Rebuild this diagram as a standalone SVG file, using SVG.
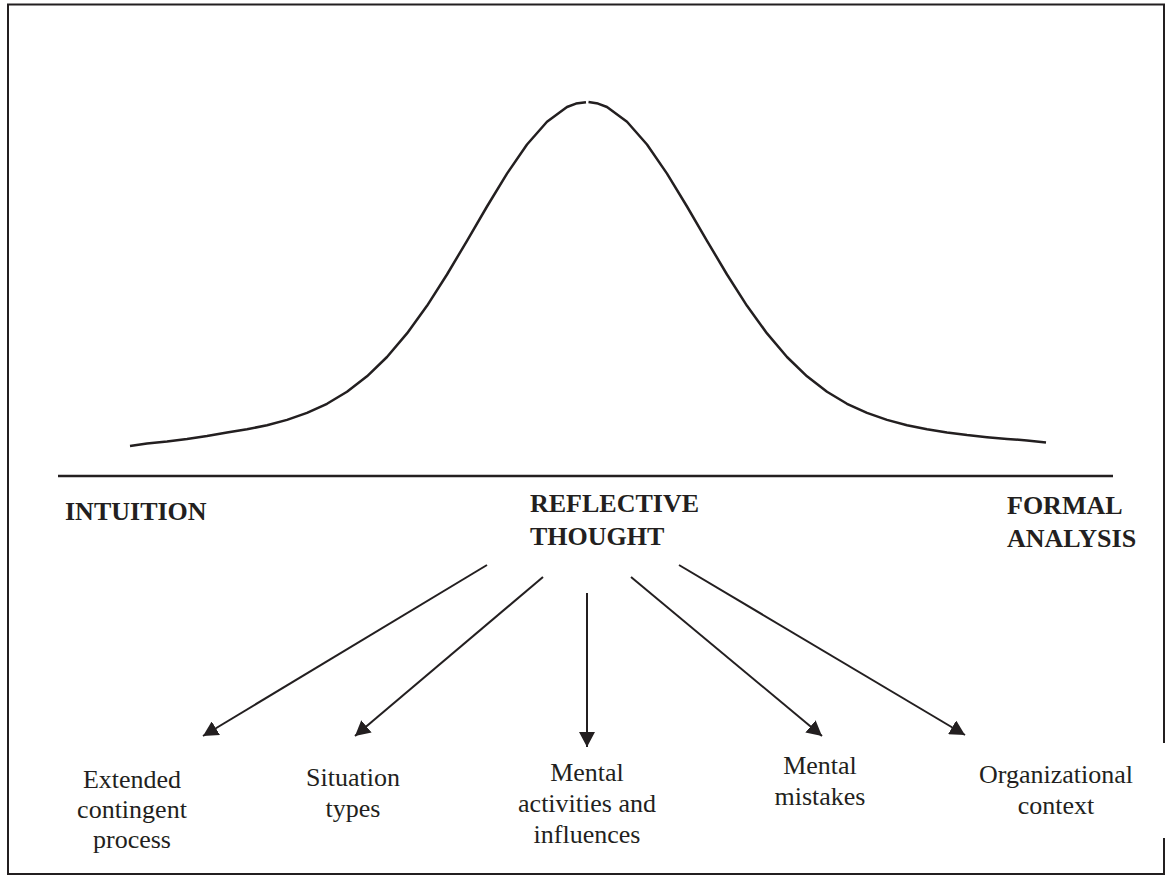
<svg xmlns="http://www.w3.org/2000/svg" width="1167" height="878" viewBox="0 0 1167 878">
  <style>
    .frame { fill: none; stroke: #231f20; stroke-width: 2; }
    .curve { fill: none; stroke: #231f20; stroke-width: 2.5; stroke-linejoin: round; stroke-linecap: butt; }
    .axis { stroke: #231f20; stroke-width: 2.5; }
    .arrow { stroke: #231f20; stroke-width: 2; fill: none; marker-end: url(#head); }
    .title { font-family: "Liberation Serif", "Times New Roman", serif; font-weight: bold; font-size: 26px; fill: #231f20; }
    .label { font-family: "Liberation Serif", "Times New Roman", serif; font-size: 26px; fill: #231f20; text-anchor: middle; }
  </style>
  <defs>
    <marker id="head" markerUnits="userSpaceOnUse" markerWidth="16" markerHeight="16" refX="15" refY="8" orient="auto">
      <path d="M0,0 L15,8 L0,16 Z" fill="#231f20"/>
    </marker>
  </defs>

  <rect width="1167" height="878" fill="#ffffff"/>

  <!-- outer frame (right edge interrupted beside the last label) -->
  <path class="frame" d="M1164,743 V4.5 H8 V874 H1164 V838"/>

  <!-- bell curve and axis -->
  <g id="distribution">
    <path class="curve" d="M130,446 L147,443.5 L167,441.5 L187,439 L207,436 L227,432.5 L247,429.3 L267,425.2 L287,419.9 L307,412.9 L327,403.8 L347,391.8 L367,376.3 L387,357 L407,333.4 L427,305.8 L447,274.5 L467,240.8 L487,206.5 L507,173.6 L527,144.5 L547,121.7 L567,107 L576,103.6 L586,102.3"/>
    <path class="curve" d="M588.5,102.1 L598,103.6 L607,107 L627,121.7 L647,144.5 L667,173.6 L687,206.5 L707,240.8 L727,274.5 L747,305.8 L767,333.4 L787,357 L807,376.3 L827,391.8 L847,403.8 L867,412.9 L887,419.9 L907,425.2 L927,429.3 L947,432.5 L967,435.1 L987,437.2 L1007,438.9 L1027,440.5 L1046,442.5"/>
    <line class="axis" x1="58" y1="476" x2="1113" y2="476"/>
  </g>

  <g id="intuition">
    <text class="title" x="65" y="520">INTUITION</text>
  </g>
  <g id="reflective-thought">
    <text class="title" x="530" y="512">REFLECTIVE</text>
    <text class="title" x="530" y="545">THOUGHT</text>
  </g>
  <g id="formal-analysis">
    <text class="title" x="1007" y="514">FORMAL</text>
    <text class="title" x="1007" y="547">ANALYSIS</text>
  </g>

  <!-- connectors from reflective thought to its aspects -->
  <g id="connectors">
    <line class="arrow" x1="487" y1="565" x2="203" y2="736"/>
    <line class="arrow" x1="543" y1="577" x2="355" y2="736"/>
    <line class="arrow" x1="587" y1="593" x2="587" y2="747"/>
    <line class="arrow" x1="631" y1="577" x2="822" y2="736"/>
    <line class="arrow" x1="679" y1="565" x2="965" y2="735"/>
  </g>

  <g id="extended-contingent-process">
    <text class="label" x="132" y="788">Extended</text>
    <text class="label" x="132" y="818">contingent</text>
    <text class="label" x="132" y="848">process</text>
  </g>
  <g id="situation-types">
    <text class="label" x="353" y="786">Situation</text>
    <text class="label" x="353" y="817">types</text>
  </g>
  <g id="mental-activities">
    <text class="label" x="587" y="781">Mental</text>
    <text class="label" x="587" y="812">activities and</text>
    <text class="label" x="587" y="843">influences</text>
  </g>
  <g id="mental-mistakes">
    <text class="label" x="820" y="774">Mental</text>
    <text class="label" x="820" y="805">mistakes</text>
  </g>
  <g id="organizational-context">
    <text class="label" x="1056" y="783">Organizational</text>
    <text class="label" x="1056" y="814">context</text>
  </g>
</svg>
